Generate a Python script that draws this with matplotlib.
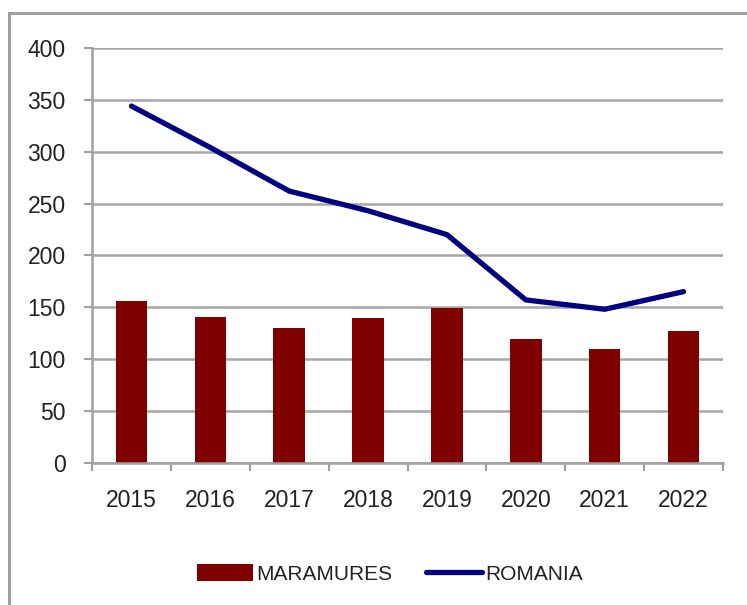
import matplotlib
matplotlib.use('Agg')
import matplotlib.pyplot as plt
from matplotlib.patches import Rectangle

# Data
years = ['2015', '2016', '2017', '2018', '2019', '2020', '2021', '2022']
maramures = [156, 141, 130, 140, 149, 119, 110, 127]
romania = [344, 304, 262, 243, 220, 157, 148, 165]

plt.rcParams['font.family'] = ['Liberation Sans', 'DejaVu Sans']

W, H = 747, 605
fig = plt.figure(figsize=(W / 100, H / 100), dpi=100)
ax = fig.add_axes([92 / W, 1 - 462.7 / H, (723 - 92) / W, (462.7 - 48) / H])

x = list(range(len(years)))
bars = ax.bar(x, maramures, width=0.4, color='#800000', zorder=2, label='MARAMURES')
line, = ax.plot(x, romania, color='#000080', linewidth=3.8, solid_capstyle='round',
                zorder=3, label='ROMANIA')

ax.set_xlim(-0.5, len(years) - 0.5)
ax.set_ylim(0, 400)
ax.set_yticks(range(0, 401, 50))
ax.set_xticks(x)
ax.set_xticklabels(years)
ax.set_xticks([i + 0.5 for i in range(-1, len(years))], minor=True)

ax.grid(axis='y', color='#a6a6a6', linewidth=1.8, zorder=0)
ax.set_axisbelow(True)
for side in ['top', 'right']:
    ax.spines[side].set_visible(False)
for side in ['left', 'bottom']:
    ax.spines[side].set_color('#a0a0a0')
    ax.spines[side].set_linewidth(1.8)

ax.tick_params(axis='y', length=6, width=1.5, color='#a0a0a0', pad=13,
               labelsize=16.5, labelcolor='#222222')
ax.tick_params(axis='x', which='major', length=0, pad=19,
               labelsize=16.5, labelcolor='#222222')
ax.tick_params(axis='x', which='minor', length=6, width=1.5, color='#a0a0a0')

leg = fig.legend([bars, line], ['MARAMURES', 'ROMANIA'], loc='center',
                 bbox_to_anchor=(390 / W, 1 - 574 / H), ncol=2,
                 frameon=False, fontsize=15, handlelength=2.7, handleheight=0.9,
                 handletextpad=0.15, columnspacing=1.6)
for t in leg.get_texts():
    t.set_color('#222222')

# outer chart frame (right/bottom edges fall outside the image)
fig.patches.append(Rectangle((9 / W, -0.05), 1.1, 1 - 13 / H + 0.05,
                             transform=fig.transFigure, fill=False,
                             edgecolor='#a0a0a0', linewidth=2.2))

fig.savefig('out.png', dpi=100)
